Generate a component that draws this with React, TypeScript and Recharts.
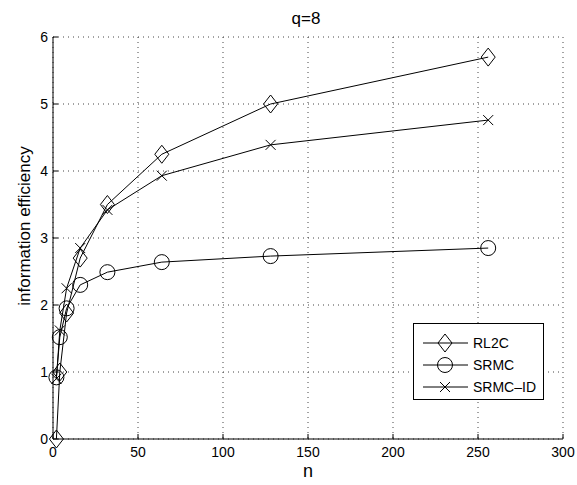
import { LineChart, Line, XAxis, YAxis, CartesianGrid } from 'recharts';

const nValues = [2, 4, 8, 16, 32, 64, 128, 256];
const rl2c = [0, 1.0, 1.88, 2.7, 3.5, 4.25, 5.0, 5.7];
const srmc = [0.92, 1.52, 1.95, 2.3, 2.49, 2.64, 2.73, 2.85];
const srmcId = [0.9, 1.62, 2.25, 2.85, 3.42, 3.93, 4.39, 4.76];
const xTicks = [0, 50, 100, 150, 200, 250, 300];
const yTicks = [0, 1, 2, 3, 4, 5, 6];

const data = nValues.map((n, i) => ({ n, rl2c: rl2c[i], srmc: srmc[i], srmcId: srmcId[i] }));

const FONT = '"Liberation Sans", Arial, sans-serif';
const TICK = 5;

const Diamond = (p: any) => (
  <path key={`dia-${p.index}`} d={`M${p.cx},${p.cy - 9}L${p.cx + 7},${p.cy}L${p.cx},${p.cy + 9}L${p.cx - 7},${p.cy}Z`}
    fill="none" stroke="#000" strokeWidth={1} />
);
const Circle = (p: any) => (
  <circle key={`cir-${p.index}`} cx={p.cx} cy={p.cy} r={7.5} fill="none" stroke="#000" strokeWidth={1} />
);
const Cross = (p: any) => (
  <path key={`x-${p.index}`} d={`M${p.cx - 5},${p.cy - 5}L${p.cx + 5},${p.cy + 5}M${p.cx - 5},${p.cy + 5}L${p.cx + 5},${p.cy - 5}`}
    fill="none" stroke="#000" strokeWidth={1} />
);

const BottomTick = ({ x, y, payload }: any) => (
  <g>
    <line x1={x} x2={x} y1={y} y2={y - TICK} stroke="#000" />
    <text x={x} y={y + 18} textAnchor="middle" fontSize={14} fontFamily={FONT} fill="#000">{payload.value}</text>
  </g>
);
const TopTick = ({ x, y }: any) => <line x1={x} x2={x} y1={y} y2={y + TICK} stroke="#000" />;
const LeftTick = ({ x, y, payload }: any) => (
  <g>
    <line x1={x} x2={x + TICK} y1={y} y2={y} stroke="#000" />
    <text x={x - 5} y={y + 5} textAnchor="end" fontSize={14} fontFamily={FONT} fill="#000">{payload.value}</text>
  </g>
);
const RightTick = ({ x, y }: any) => <line x1={x} x2={x - TICK} y1={y} y2={y} stroke="#000" />;

const legendItems = [
  { name: 'RL2C', Marker: Diamond },
  { name: 'SRMC', Marker: Circle },
  { name: 'SRMC\u2013ID', Marker: Cross },
];

const LegendBox = () => (
  <div style={{ position: 'absolute', left: 413, top: 323, border: '1px solid #000', background: '#fff', width: 129, height: 67, paddingTop: 8, fontFamily: FONT, fontSize: 14 }}>
    {legendItems.map(({ name, Marker }) => (
      <div key={name} style={{ display: 'flex', alignItems: 'center', height: 22 }}>
        <svg width={55} height={22}>
          <line x1={9} x2={54} y1={11} y2={11} stroke="#000" />
          <Marker cx={31} cy={11} index={0} />
        </svg>
        <span style={{ marginLeft: 4 }}>{name}</span>
      </div>
    ))}
  </div>
);

export default function App() {
  return (
    <div style={{ position: 'absolute', left: 0, top: 0, width: 577, height: 485 }}>
      <LineChart width={577} height={485} data={data} margin={{ top: 37, right: 14, left: 8, bottom: 6 }}>
        <CartesianGrid stroke="#444" strokeDasharray="1 4" horizontal vertical />
        <XAxis dataKey="n" type="number" domain={[0, 300]} ticks={xTicks} height={40}
          axisLine={{ stroke: '#000' }} tickLine={false} tickSize={0} tickMargin={0} tick={<BottomTick />}
          label={{ value: 'n', position: 'insideBottom', offset: 2, fontSize: 18, fontFamily: FONT, fill: '#000' }} />
        <XAxis xAxisId="top" orientation="top" dataKey="n" type="number" domain={[0, 300]} ticks={xTicks} height={0}
          axisLine={{ stroke: '#000' }} tickLine={false} tickSize={0} tickMargin={0} tick={<TopTick />} />
        <YAxis type="number" domain={[0, 6]} ticks={yTicks} width={45}
          axisLine={{ stroke: '#000' }} tickLine={false} tickSize={0} tickMargin={0} tick={<LeftTick />} />
        <YAxis yAxisId="right" orientation="right" type="number" domain={[0, 6]} ticks={yTicks} width={0}
          axisLine={{ stroke: '#000' }} tickLine={false} tickSize={0} tickMargin={0} tick={<RightTick />} />
        <Line dataKey="rl2c" name="RL2C" stroke="#000" strokeWidth={1} dot={Diamond} isAnimationActive={false} />
        <Line dataKey="srmc" name="SRMC" stroke="#000" strokeWidth={1} dot={Circle} isAnimationActive={false} />
        <Line dataKey="srmcId" name="SRMC-ID" stroke="#000" strokeWidth={1} dot={Cross} isAnimationActive={false} />
        <text x={306} y={24} textAnchor="middle" fontSize={17} fontFamily={FONT} fill="#000">q=8</text>
        <text x={24} y={226} dy={6} textAnchor="middle" fontSize={17} fontFamily={FONT} fill="#000" transform="rotate(-90 24 226)">information efficiency</text>
      </LineChart>
      <LegendBox />
    </div>
  );
}
